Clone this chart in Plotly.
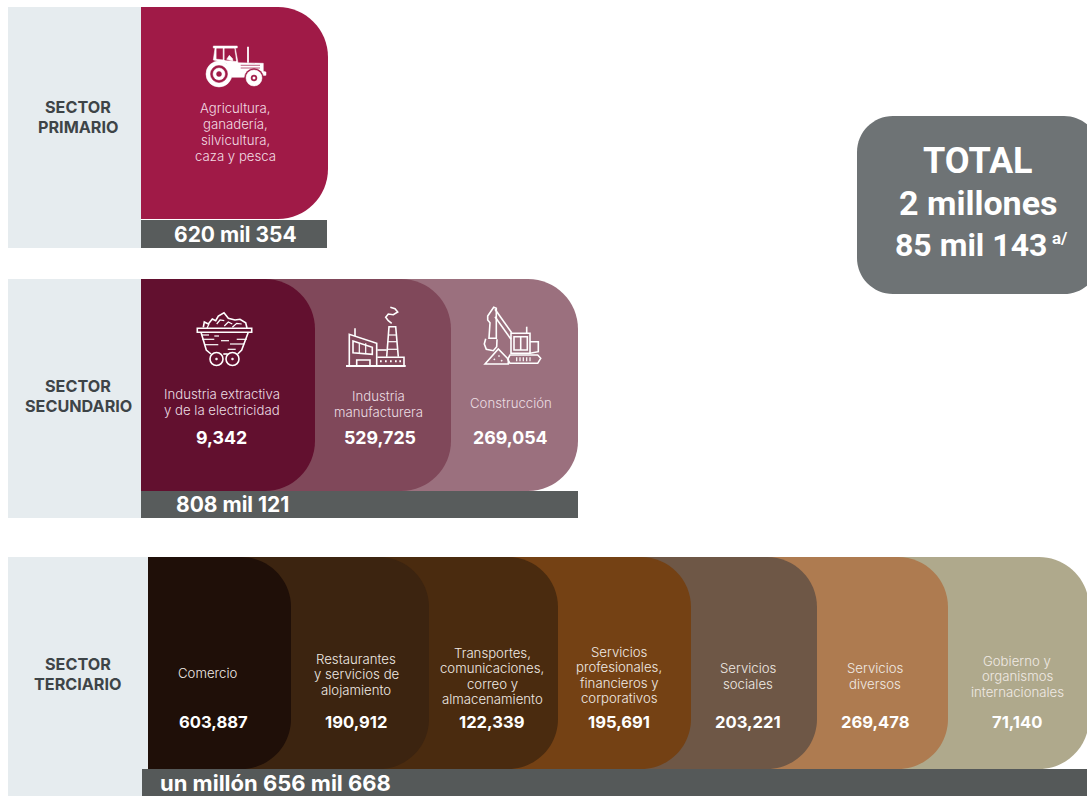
import plotly.graph_objects as go

# ---------- data ----------
sector_titles = ["SECTOR<br>PRIMARIO", "SECTOR<br>SECUNDARIO", "SECTOR<br>TERCIARIO"]
sector_totals = ["620 mil 354", "808 mil 121", "un millón 656 mil 668"]
total_text = ["TOTAL", "2 millones", "85 mil 143"]
total_mark = "a/"

primary_labels = ["Agricultura,<br>ganadería,<br>silvicultura,<br>caza y pesca"]

secondary_labels = ["Industria extractiva<br>y de la electricidad", "Industria<br>manufacturera", "Construcción"]
secondary_values = [9342, 529725, 269054]

tertiary_labels = ["Comercio", "Restaurantes<br>y servicios de<br>alojamiento",
                   "Transportes,<br>comunicaciones,<br>correo y<br>almacenamiento",
                   "Servicios<br>profesionales,<br>financieros y<br>corporativos",
                   "Servicios<br>sociales", "Servicios<br>diversos",
                   "Gobierno y<br>organismos<br>internacionales"]
tertiary_values = [603887, 190912, 122339, 195691, 203221, 269478, 71140]

# ---------- layout constants (pixels on a 1087x796 canvas) ----------
W, H = 1087, 796
PANEL = "#E6ECEF"; BAR = "#585C5C"; TITLE = "#3E4447"; BOX = "#6E7375"
SANS = "Inter, Lato, sans-serif"
K = 0.5523
R = 50

sec_colors = ["#62102F", "#80485A", "#9B707E"]
ter_colors = ["#1F0F08", "#3C2410", "#4A2B0F", "#744114", "#6E5746", "#AE7B50", "#AFA98C"]
sec_right = [315, 451, 578]
ter_right = [291, 429, 558, 691, 817, 948, 1089]
sec_lab_x = [222, 378, 511]
sec_lab_y = [402, 404, 403]
sec_val_x = [221, 380, 510]
ter_x = [213, 356, 492, 619, 748, 875, 1017]
ter_lab_x = [208, 356, 492, 619, 748, 875, 1017]
ter_lab_y = [673, 674, 676, 675, 676, 676, 676]

shapes, annos = [], []


def fmt(v):
    return f"{v:,}"


def rect(x0, y0, x1, y1, color):
    shapes.append(dict(type="rect", x0=x0, y0=y0, x1=x1, y1=y1, fillcolor=color,
                       line=dict(width=0), layer="below"))


def tile(x0, y0, x1, y1, color, r=R):
    c = r * (1 - K)
    p = (f"M{x0},{y0} L{x1 - r},{y0} C{x1 - c},{y0} {x1},{y0 + c} {x1},{y0 + r} "
         f"L{x1},{y1 - r} C{x1},{y1 - c} {x1 - c},{y1} {x1 - r},{y1} L{x0},{y1} Z")
    shapes.append(dict(type="path", path=p, fillcolor=color, line=dict(width=0), layer="below"))


def rounded_all(x0, y0, x1, y1, color, r):
    c = r * (1 - K)
    p = (f"M{x0 + r},{y0} L{x1 - r},{y0} C{x1 - c},{y0} {x1},{y0 + c} {x1},{y0 + r} "
         f"L{x1},{y1 - r} C{x1},{y1 - c} {x1 - c},{y1} {x1 - r},{y1} L{x0 + r},{y1} "
         f"C{x0 + c},{y1} {x0},{y1 - c} {x0},{y1 - r} L{x0},{y0 + r} C{x0},{y0 + c} {x0 + c},{y0} {x0 + r},{y0} Z")
    shapes.append(dict(type="path", path=p, fillcolor=color, line=dict(width=0), layer="below"))


def text(x, y, s, size, color="#FFFFFF", weight=400, family=SANS):
    annos.append(dict(x=x, y=y, xref="x", yref="y", text=s, showarrow=False, xanchor="center",
                      yanchor="middle", align="center",
                      font=dict(size=size, color=color, family=family, weight=weight)))


def lines(x, yc, s, size, spacing, color="#FFFFFF", weight=400):
    parts = s.split("<br>")
    y0 = yc - spacing * (len(parts) - 1) / 2
    for i, part in enumerate(parts):
        text(x, y0 + i * spacing, part, size, color, weight)


def icon_line(pts, ox, oy, s, close=False, width=1.6, fill=None, color="#FFFFFF"):
    d = "M" + " L".join(f"{ox + x / s:.1f},{oy + y / s:.1f}" for x, y in pts)
    if close:
        d += " Z"
    shapes.append(dict(type="path", path=d, line=dict(color=color, width=width),
                       fillcolor=fill if fill else "rgba(0,0,0,0)"))


def circle(cx, cy, r, fill=None, width=1.6, color="#FFFFFF"):
    shapes.append(dict(type="circle", x0=cx - r, y0=cy - r, x1=cx + r, y1=cy + r,
                       fillcolor=fill if fill else "rgba(0,0,0,0)",
                       line=dict(color=color, width=width)))


# ---------- panels ----------
rect(8, 7, 141, 248, PANEL)
rect(8, 279, 141, 518, PANEL)
rect(8, 557, 148, 796, PANEL)

# primary
tile(141, 7, 328, 219, "#A01A47")
rect(141, 220, 327, 248, BAR)

# secondary
for i in reversed(range(3)):
    tile(141, 279, sec_right[i], 491, sec_colors[i])
rect(141, 491, 578, 518, BAR)

# tertiary
for i in reversed(range(7)):
    tile(148, 557, ter_right[i], 769, ter_colors[i])
rect(142, 769, 1087, 796, "#555959")

# total box
rounded_all(857, 116, 1100, 294, BOX, 36)

# ---------- text ----------
for y, s in zip([117, 396, 674], sector_titles):
    lines(78, y, s, 16.2, 20, TITLE, 700)

lines(235, 132, primary_labels[0], 13.2, 16, "#F2DCE3", 300)
text(235, 234, sector_totals[0], 21, weight=700)
text(232, 504, sector_totals[1], 21, weight=700)
text(275, 783, sector_totals[2], 22, weight=700)

for i in range(3):
    lines(sec_lab_x[i], sec_lab_y[i], secondary_labels[i], 13.2, 15.5, "#EBDDE2", 300)
    text(sec_val_x[i], 437, fmt(secondary_values[i]), 17.8, weight=700)

for i in range(7):
    lines(ter_lab_x[i], ter_lab_y[i], tertiary_labels[i], 13.2, 15.5, "#F0EAE4", 300)
    text(ter_x[i], 722, fmt(tertiary_values[i]), 16.6, weight=700)

for x, y, s, sz in zip([978, 978, 971], [161, 203, 245], total_text, [36, 34, 32]):
    text(x, y, s, sz, weight=700, family="Roboto, sans-serif")
text(1060, 238, total_mark, 17, weight=700, family="Roboto, sans-serif")

# ---------- icons ----------
# tractor (solid)
T = "#A01A47"
icon_line([(640, 138), (712, 138), (712, 144), (706, 144), (714, 188), (790, 190), (790, 214), (798, 216), (798, 226),
           (740, 232), (695, 232), (680, 190), (640, 180), (645, 144), (640, 144)], 0, 0, 3, True, 0.5, "#FFFFFF")
icon_line([(650, 146), (668, 146), (668, 178), (650, 176)], 0, 0, 3, True, 0.5, T, T)
icon_line([(674, 146), (703, 146), (708, 183), (674, 180)], 0, 0, 3, True, 0.5, T, T)
icon_line([(680, 178), (688, 166), (698, 176), (698, 183)], 0, 0, 3, True, 0.5, "#FFFFFF")
icon_line([(744, 140), (744, 188)], 0, 0, 3, False, 1.8)
for yy in (196, 204):
    icon_line([(722, yy), (780, yy)], 0, 0, 3, False, 0.7, color=T)
circle(219, 74, 13, "#FFFFFF", 0.5)
circle(219, 74, 8.5, T, 0.5, T)
circle(219, 74, 6, "#FFFFFF", 0.5)
circle(219, 74, 2.5, T, 0.5, T)
circle(254, 78, 9.5, T, 0.5, T)
circle(254, 78, 8, "#FFFFFF", 0.5)
circle(254, 78, 3, T, 0.5, T)
circle(254, 78, 1.3, "#FFFFFF", 0.3)

# mine cart
ox, oy = 185, 300
M = "#62102F"
icon_line([(55, 82), (58, 66), (70, 72), (82, 57), (92, 62), (100, 48), (117, 38), (130, 55), (150, 60), (165, 58),
           (182, 68), (186, 84)], ox, oy, 3)
for seg in ([(95, 72), (105, 60), (118, 62)], [(118, 78), (130, 66), (142, 72)], [(142, 82), (155, 70), (170, 72)],
            [(66, 84), (72, 72)]):
    icon_line(seg, ox, oy, 3, width=1.2)
icon_line([(37, 85), (200, 85), (200, 97), (37, 97)], ox, oy, 3, True)
icon_line([(48, 97), (64, 150), (78, 162)], ox, oy, 3)
icon_line([(190, 97), (170, 150), (158, 162)], ox, oy, 3)
icon_line([(115, 162), (128, 162)], ox, oy, 3)
for seg in ([(50, 105), (72, 105)], [(88, 108), (102, 108)], [(52, 118), (88, 118)], [(108, 122), (132, 122)],
            [(155, 118), (185, 118)], [(60, 134), (100, 134)], [(135, 132), (178, 132)], [(128, 148), (152, 148)]):
    icon_line(seg, ox, oy, 3, width=1.2)
for cx in (216, 232):
    circle(cx + 0.5, 359, 6.5, M)
    circle(cx + 0.5, 359, 1.1, "#FFFFFF", 0.4)

# factory
ox, oy = 335, 300
icon_line([(33, 198), (212, 198)], ox, oy, 3, width=1.8)
icon_line([(43, 198), (43, 103), (125, 130), (125, 198)], ox, oy, 3)
icon_line([(60, 85), (60, 108)], ox, oy, 3)
icon_line([(54, 123), (112, 142), (112, 163), (54, 158)], ox, oy, 3, True)
for xx in (73, 92):
    icon_line([(xx, 130), (xx, 160)], ox, oy, 3, width=1.2)
icon_line([(65, 198), (65, 180), (105, 180), (105, 198)], ox, oy, 3)
icon_line([(155, 170), (162, 80), (182, 80), (190, 170)], ox, oy, 3)
for seg in ([(160, 105), (184, 105)], [(158, 125), (186, 125)], [(157, 148), (188, 148)]):
    icon_line(seg, ox, oy, 3, width=1.2)
icon_line([(127, 150), (155, 150)], ox, oy, 3)
icon_line([(127, 172), (207, 172), (207, 198)], ox, oy, 3)
for xx in (135, 150, 165, 180, 193):
    icon_line([(xx, 184), (xx + 5, 184)], ox, oy, 3, width=2)
icon_line([(170, 70), (160, 62), (152, 52), (160, 42), (175, 44), (188, 36), (180, 26), (166, 22)], ox, oy, 3)

# excavator
ox, oy = 475, 300
icon_line([(108, 100), (165, 100), (165, 160), (108, 160)], ox, oy, 3, True)
icon_line([(117, 110), (157, 110), (157, 150), (117, 150)], ox, oy, 3, True)
icon_line([(137, 110), (137, 150)], ox, oy, 3)
icon_line([(155, 80), (155, 100)], ox, oy, 3)
icon_line([(60, 28), (110, 98)], ox, oy, 3)
icon_line([(60, 50), (108, 118)], ox, oy, 3)
icon_line([(38, 48), (56, 22), (64, 25), (64, 115), (42, 115), (45, 68), (38, 60)], ox, oy, 3, True)
icon_line([(32, 116), (28, 132), (34, 148), (55, 152), (65, 140), (66, 118)], ox, oy, 3)
icon_line([(165, 125), (190, 125), (190, 155), (165, 160)], ox, oy, 3)
icon_line([(30, 192), (70, 147), (100, 178), (100, 192)], ox, oy, 3, True)
for cx, cy in ((58, 178), (72, 168), (80, 182)):
    circle(ox + cx / 3, oy + cy / 3, 0.6, "#FFFFFF", 0.5)
icon_line([(105, 165), (188, 165), (197, 175), (188, 190), (105, 190), (98, 178)], ox, oy, 3, True)
for xx in (125, 135, 145, 155, 165):
    icon_line([(xx, 172), (xx, 184)], ox, oy, 3, width=1.2)

# ---------- figure ----------
fig = go.Figure()
fig.update_layout(width=W, height=H, margin=dict(l=0, r=0, t=0, b=0), showlegend=False,
                  paper_bgcolor="#FFFFFF", plot_bgcolor="#FFFFFF", shapes=shapes, annotations=annos,
                  xaxis=dict(range=[0, W], visible=False, fixedrange=True),
                  yaxis=dict(range=[H, 0], visible=False, fixedrange=True))
fig.write_html("out.html", config=dict(displayModeBar=False),
               post_script="document.body.style.margin='0';document.body.style.overflow='hidden';")
